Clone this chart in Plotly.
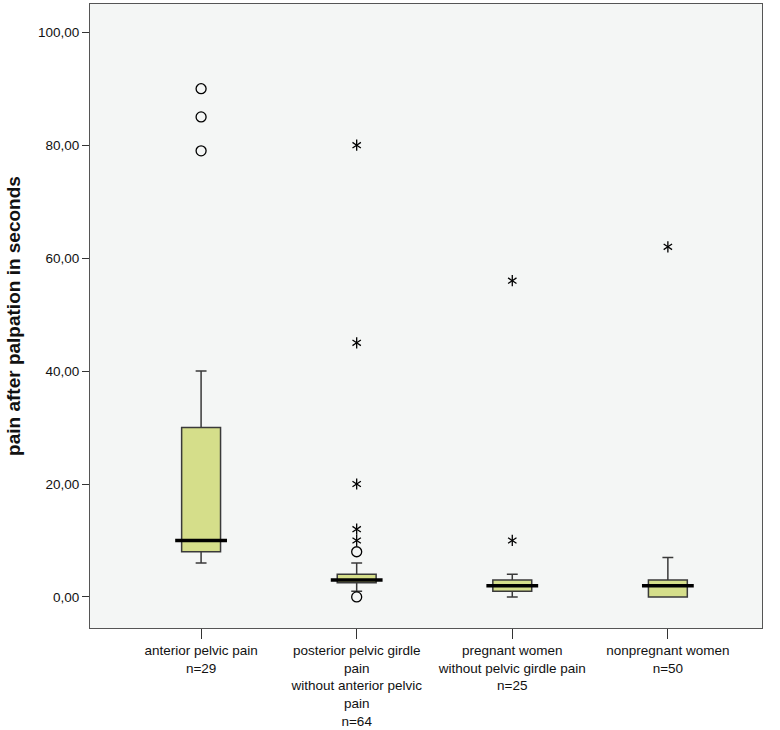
import plotly.graph_objects as go

# group labels (x axis)
groups = [
    "anterior pelvic pain<br>n=29",
    "posterior pelvic girdle<br>pain<br>without anterior pelvic<br>pain<br>n=64",
    "pregnant women<br>without pelvic girdle pain<br>n=25",
    "nonpregnant women<br>n=50",
]

# box statistics
lower_whisker = [6, 1, 0, 0]
q1 = [8, 2.5, 1, 0]
median = [10, 3, 2, 2]
q3 = [30, 4, 3, 3]
upper_whisker = [40, 6, 4, 7]

# outliers: circles (mild) and stars (extreme)
circle_x = [groups[0], groups[0], groups[0], groups[1], groups[1]]
circle_y = [90, 85, 79, 8, 0]
star_x = [groups[1], groups[1], groups[1], groups[1], groups[1], groups[2], groups[2], groups[3]]
star_y = [80, 45, 20, 12, 10, 56, 10, 62]

FONT = "Liberation Sans, Arial, Helvetica, sans-serif"
BOX_FILL = "#d5de8a"
LINE = "#3a3a3a"

fig = go.Figure()
fig.add_trace(go.Box(
    x=groups,
    q1=q1,
    median=median,
    q3=q3,
    lowerfence=lower_whisker,
    upperfence=upper_whisker,
    fillcolor=BOX_FILL,
    line=dict(color=LINE, width=1.5),
    width=0.25,
    whiskerwidth=0.28,
    boxpoints=False,
    hoverinfo="skip",
))
# thick median bars
fig.add_trace(go.Scatter(
    x=groups, y=median, mode="markers",
    marker=dict(symbol="line-ew-open", size=37, color="black", line=dict(color="black", width=3.5)),
    hoverinfo="skip",
))
fig.add_trace(go.Scatter(
    x=circle_x, y=circle_y, mode="markers",
    marker=dict(symbol="circle-open", size=10, color="black", line=dict(width=1.3)),
))
for sym in ["y-up-open", "y-down-open"]:
    fig.add_trace(go.Scatter(
        x=star_x, y=star_y, mode="markers",
        marker=dict(symbol=sym, size=7, color="black", line=dict(color="black", width=1.3)),
    ))

fig.update_layout(
    width=780,
    height=730,
    margin=dict(l=90, r=18, t=4, b=102),
    paper_bgcolor="white",
    plot_bgcolor="#f4f6f5",
    showlegend=False,
    separators=",.",
    font=dict(family=FONT, size=13, color="#111"),
)
fig.update_xaxes(
    type="category",
    range=[-0.714, 3.605],
    showgrid=False,
    zeroline=False,
    showline=True,
    linecolor="#555",
    linewidth=1.2,
    mirror=True,
    ticks="outside",
    ticklen=10,
    tickcolor="#333",
    tickfont=dict(family=FONT, size=13.5),
    automargin=False,
)
fig.update_yaxes(
    range=[-5.5, 105],
    tickvals=[0, 20, 40, 60, 80, 100],
    tickformat=".2f",
    showgrid=False,
    zeroline=False,
    showline=True,
    linecolor="#555",
    linewidth=1.2,
    mirror=True,
    ticks="outside",
    ticklen=7,
    tickcolor="#333",
    tickfont=dict(family=FONT, size=13.5),
    title=dict(text="<b>pain after palpation in seconds</b>", font=dict(family=FONT, size=19), standoff=12),
    automargin=False,
)

fig.write_html(
    "out.html",
    config={"displayModeBar": False},
    post_script="document.body.style.margin='0';",
)
